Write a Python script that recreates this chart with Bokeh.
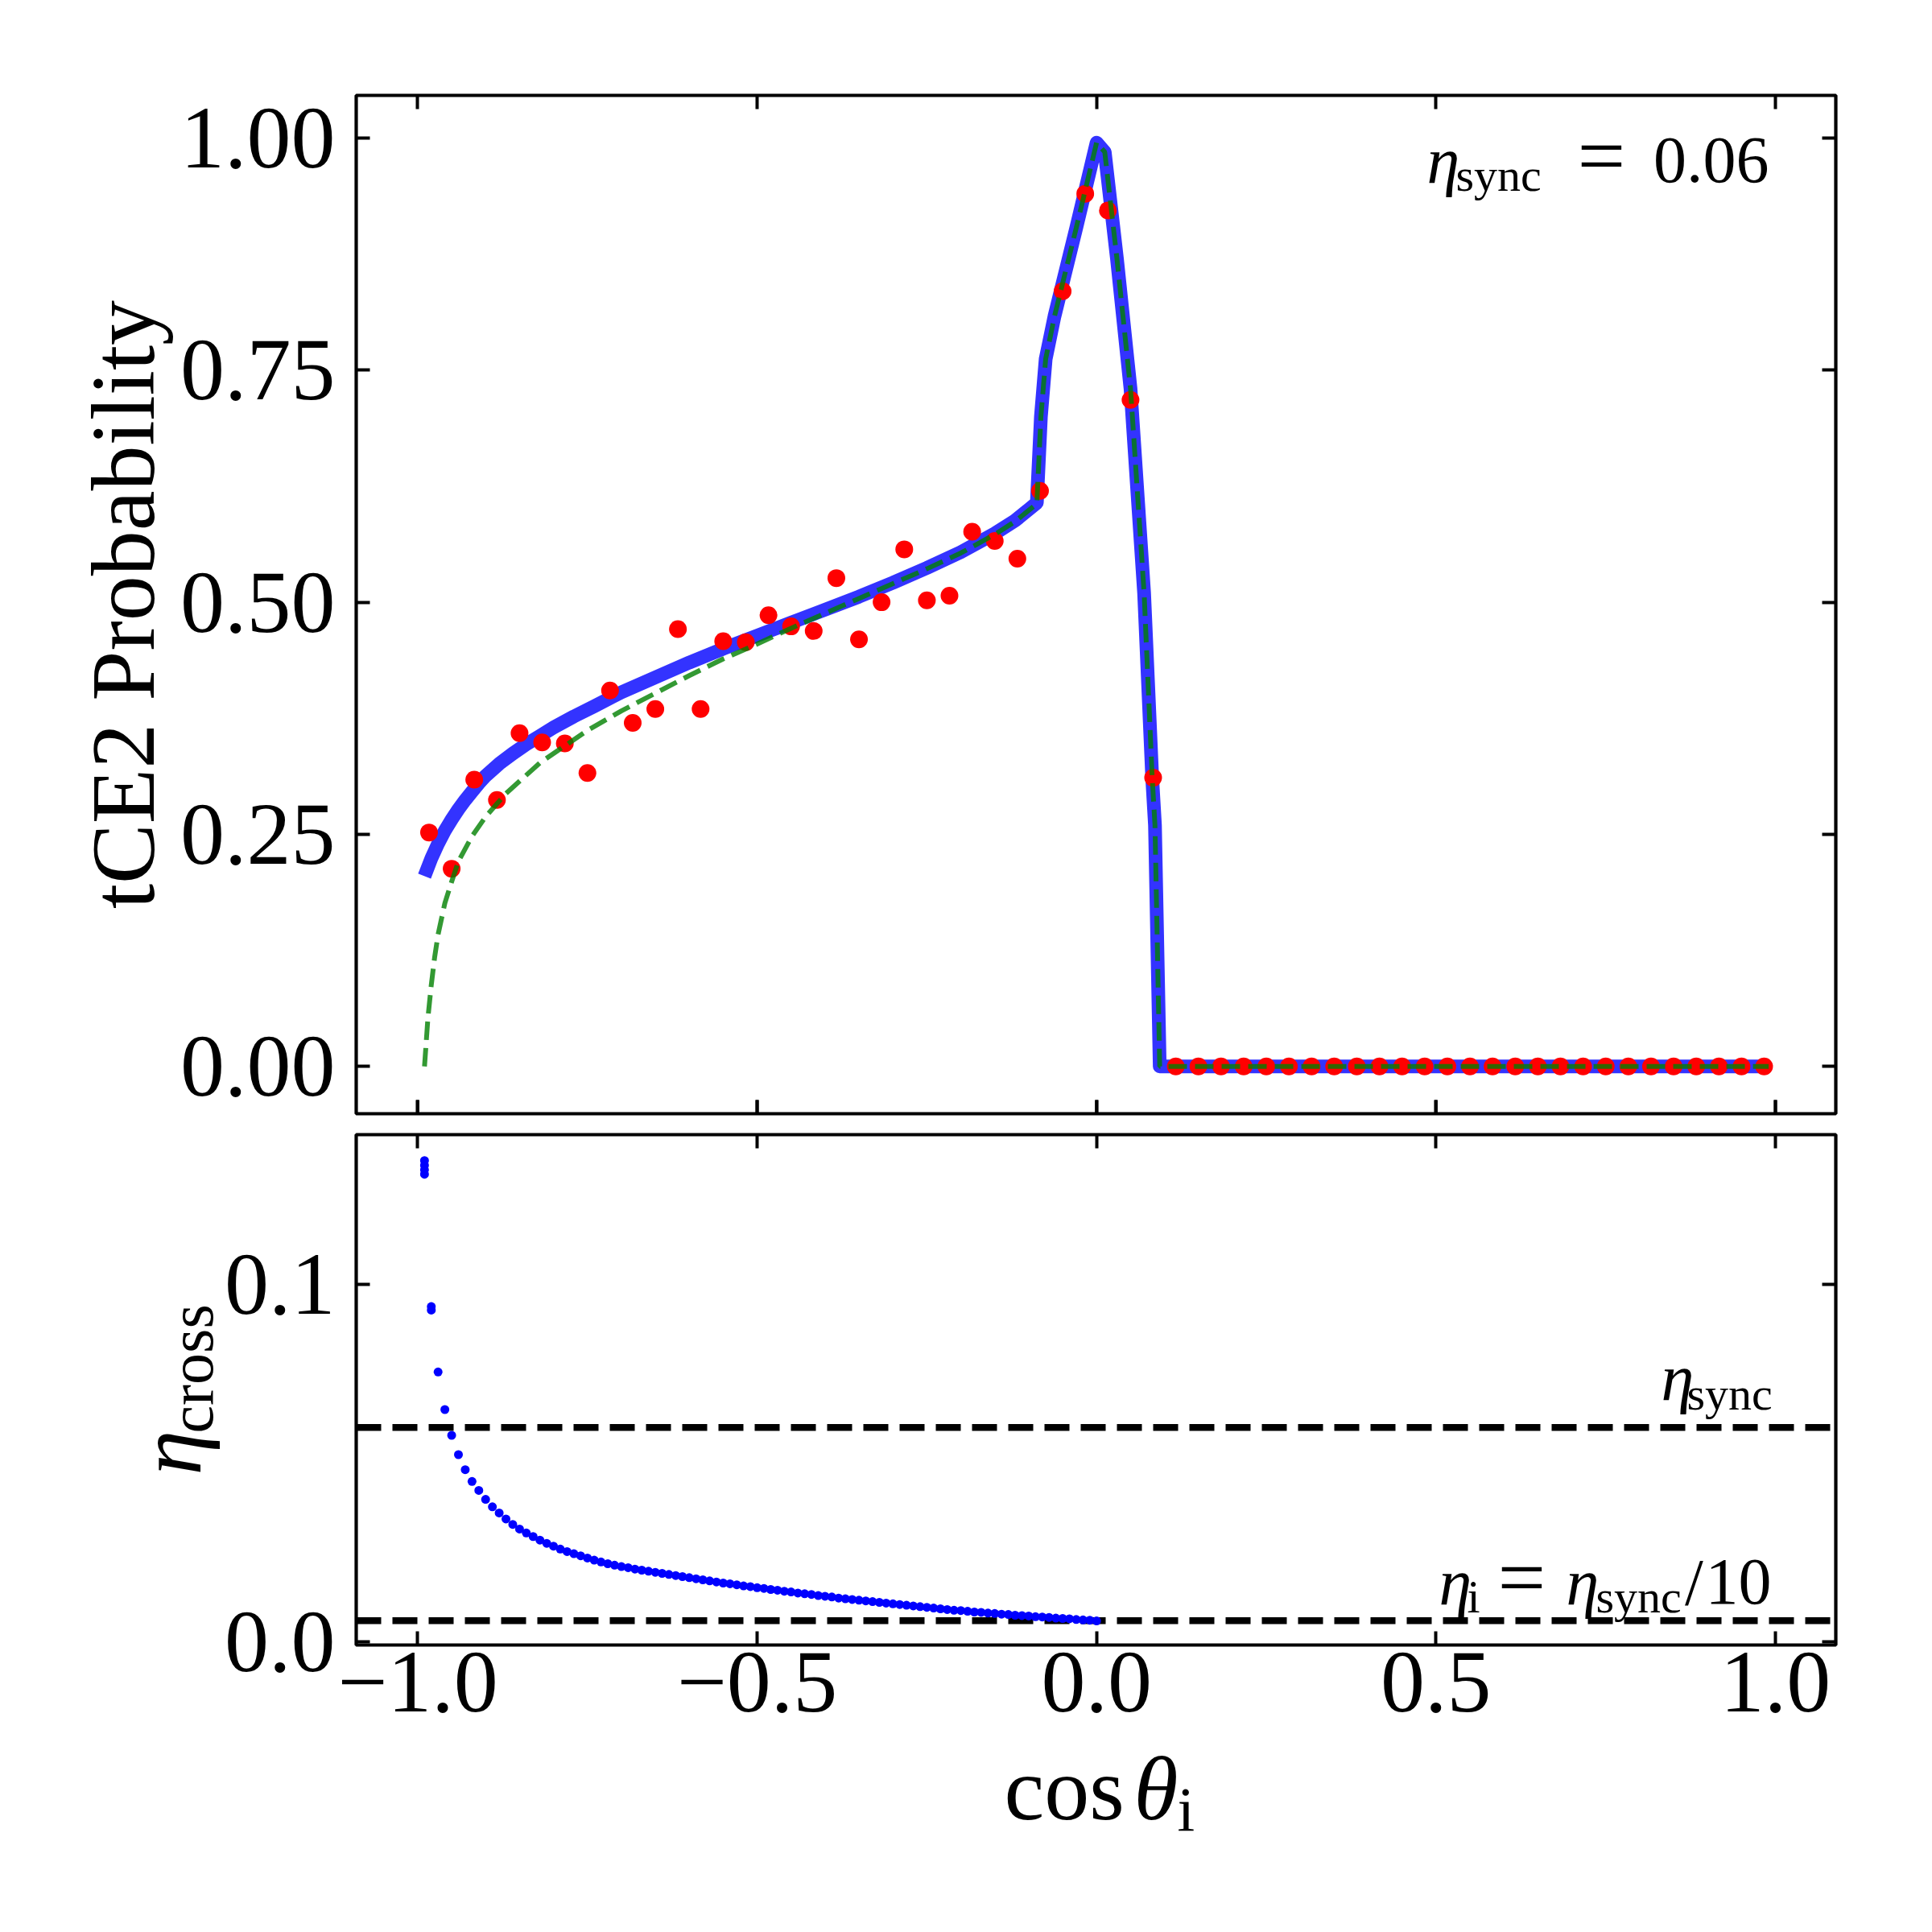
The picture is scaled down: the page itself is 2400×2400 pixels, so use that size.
import math
from bokeh.plotting import figure
from bokeh.models import Range1d, LinearAxis, FixedTicker, Label, Span, PrintfTickFormatter
from bokeh.layouts import column, row
from bokeh.embed import file_html
from bokeh.resources import INLINE

# ---------------- data ----------------
# top panel: binned simulation (red points)
bin_x = [-0.9833, -0.95, -0.9167, -0.8833, -0.85, -0.8167, -0.7833, -0.75, -0.7167, -0.6833,
         -0.65, -0.6167, -0.5833, -0.55, -0.5167, -0.4833, -0.45, -0.4167, -0.3833, -0.35,
         -0.3167, -0.2833, -0.25, -0.2167, -0.1833, -0.15, -0.1167, -0.0833, -0.05, -0.0167,
         0.0167, 0.05, 0.0833, 0.1167, 0.15, 0.1833, 0.2167, 0.25, 0.2833, 0.3167,
         0.35, 0.3833, 0.4167, 0.45, 0.4833, 0.5167, 0.55, 0.5833, 0.6167, 0.65,
         0.6833, 0.7167, 0.75, 0.7833, 0.8167, 0.85, 0.8833, 0.9167, 0.95, 0.9833]
bin_prob = [0.252, 0.213, 0.309, 0.287, 0.359, 0.349, 0.348, 0.316, 0.405, 0.370,
            0.385, 0.471, 0.385, 0.458, 0.457, 0.486, 0.474, 0.469, 0.526, 0.460,
            0.500, 0.557, 0.502, 0.507, 0.576, 0.566, 0.547, 0.620, 0.835, 0.940,
            0.922, 0.718, 0.311, 0.0, 0.0, 0.0, 0.0, 0.0, 0.0, 0.0,
            0.0, 0.0, 0.0, 0.0, 0.0, 0.0, 0.0, 0.0, 0.0, 0.0,
            0.0, 0.0, 0.0, 0.0, 0.0, 0.0, 0.0, 0.0, 0.0, 0.0]

# top panel: model curve (thick blue)
model_x = [-0.99, -0.98, -0.97, -0.96, -0.95, -0.94, -0.93, -0.92, -0.91, -0.90,
           -0.88, -0.86, -0.84, -0.82, -0.80, -0.77, -0.74, -0.70, -0.65, -0.60,
           -0.55, -0.50, -0.45, -0.40, -0.35, -0.30, -0.25, -0.20, -0.15, -0.12,
           -0.088, -0.082, -0.075, -0.062, -0.03, 0.0, 0.012, 0.03, 0.05, 0.07,
           0.082, 0.086, 0.093, 0.2, 0.4, 0.6, 0.8, 0.99]
model_prob = [0.205, 0.224, 0.240, 0.254, 0.266, 0.277, 0.287, 0.296, 0.305, 0.313,
              0.326, 0.337, 0.347, 0.356, 0.365, 0.377, 0.388, 0.403, 0.419, 0.435,
              0.450, 0.464, 0.478, 0.492, 0.506, 0.521, 0.537, 0.554, 0.574, 0.588,
              0.607, 0.700, 0.762, 0.808, 0.903, 0.995, 0.985, 0.870, 0.730, 0.510,
              0.310, 0.260, 0.0, 0.0, 0.0, 0.0, 0.0, 0.0]

# top panel: approximate curve (green dashed)
approx_x = [-0.99, -0.985, -0.98, -0.975, -0.97, -0.96, -0.95, -0.94, -0.92, -0.90,
            -0.87, -0.82, -0.75, -0.70, -0.65, -0.60, -0.55, -0.50, -0.45, -0.40,
            -0.35, -0.30, -0.25, -0.20, -0.15, -0.12, -0.088, -0.082, -0.075, -0.062,
            -0.03, 0.0, 0.012, 0.03, 0.05, 0.07, 0.082, 0.086, 0.093, 0.2, 0.4, 0.6, 0.8, 0.99]
approx_prob = [0.0, 0.052, 0.088, 0.118, 0.142, 0.176, 0.199, 0.221, 0.248, 0.269,
               0.294, 0.327, 0.362, 0.383, 0.402, 0.421, 0.439, 0.455, 0.472, 0.488,
               0.504, 0.520, 0.536, 0.553, 0.573, 0.587, 0.606, 0.700, 0.762, 0.808,
               0.903, 0.995, 0.985, 0.870, 0.730, 0.510, 0.310, 0.260, 0.0, 0.0, 0.0, 0.0, 0.0, 0.0]

# bottom panel: eta_cross points
cross_x = [-0.99, -0.99, -0.99, -0.99, -0.98, -0.98, -0.97, -0.96, -0.95, -0.94,
           -0.93, -0.92, -0.91, -0.90, -0.89, -0.88, -0.87, -0.86, -0.85, -0.84,
           -0.83, -0.82, -0.81, -0.80, -0.79, -0.78, -0.77, -0.76, -0.75, -0.74,
           -0.73, -0.72, -0.71, -0.70, -0.69, -0.68, -0.67, -0.66, -0.65, -0.64,
           -0.63, -0.62, -0.61, -0.60, -0.59, -0.58, -0.57, -0.56, -0.55, -0.54,
           -0.53, -0.52, -0.51, -0.50, -0.49, -0.48, -0.47, -0.46, -0.45, -0.44,
           -0.43, -0.42, -0.41, -0.40, -0.39, -0.38, -0.37, -0.36, -0.35, -0.34,
           -0.33, -0.32, -0.31, -0.30, -0.29, -0.28, -0.27, -0.26, -0.25, -0.24,
           -0.23, -0.22, -0.21, -0.20, -0.19, -0.18, -0.17, -0.16, -0.15, -0.14,
           -0.13, -0.12, -0.11, -0.10, -0.09, -0.08, -0.07, -0.06, -0.05, -0.04,
           -0.03, -0.02, -0.01, 0.00]
cross_eta = [0.1308, 0.1320, 0.1333, 0.1346, 0.0928, 0.0938, 0.0755, 0.0650, 0.0578, 0.0524,
             0.0482, 0.0449, 0.0424, 0.0399, 0.0378, 0.0361, 0.0344, 0.0329, 0.0316, 0.0305,
             0.0295, 0.0285, 0.0276, 0.0268, 0.0260, 0.0253, 0.0247, 0.0241, 0.0235, 0.0229,
             0.0224, 0.0219, 0.0215, 0.0211, 0.0208, 0.0204, 0.0201, 0.0198, 0.0195, 0.0192,
             0.0189, 0.0186, 0.0183, 0.0180, 0.0177, 0.0174, 0.0171, 0.0168, 0.0165, 0.0163,
             0.0160, 0.0157, 0.0155, 0.0152, 0.0150, 0.0147, 0.0145, 0.0142, 0.0140, 0.0137,
             0.0135, 0.0133, 0.0130, 0.0128, 0.0126, 0.0123, 0.0121, 0.0119, 0.0117, 0.0115,
             0.0113, 0.0111, 0.0109, 0.0107, 0.0105, 0.0103, 0.0101, 0.0099, 0.0097, 0.0095,
             0.0093, 0.0091, 0.0089, 0.0088, 0.0086, 0.0084, 0.0083, 0.0081, 0.0080, 0.0078,
             0.0077, 0.0075, 0.0074, 0.0073, 0.0071, 0.0070, 0.0069, 0.0067, 0.0066, 0.0065,
             0.0063, 0.0062, 0.0061, 0.0059]

eta_sync = 0.06
eta_i = eta_sync / 10

x_ticks = [-1.0, -0.5, 0.0, 0.5, 1.0]
x_tick_labels = ["\u22121.0", "\u22120.5", "0.0", "0.5", "1.0"]
top_y_ticks = [0.0, 0.25, 0.5, 0.75, 1.0]
bot_y_ticks = [0.0, 0.1]

# ---------------- layout constants (page pixels) ----------------
FONT = "Liberation Serif"
TICK_FS = 110
LABEL_FS = 112
SUBL_FS = 78
ANN_FS = 82
EQ_FS = 106
SUB_FS = 58
BASE_K = 0.33          # baseline correction (fraction of font size)
W = 2400
FRAME_L = 442
FRAME_W = 1838
BR = W - FRAME_L - FRAME_W
T1, FH1, BB1 = 118, 1265, 12
H1 = T1 + FH1 + BB1
T2, FH2, BB2 = 14, 634, 120
H2 = T2 + FH2 + BB2
HELP_L = 274
H3 = 232
X_RANGE = (-1.0906, 1.0889)
Y1_RANGE = (-0.0509, 1.0459)
Y2_RANGE = (-0.00083, 0.14186)
TICK_LEN = 17

FRAME_B1 = T1 + FH1
FRAME_B2 = H1 + T2 + FH2


def make_fig(width, height, yr, left, top, bottom):
    p = figure(width=width, height=height, x_range=Range1d(*X_RANGE), y_range=Range1d(*yr),
               output_backend="svg", toolbar_location=None, title=None,
               min_border_left=left, min_border_right=BR, min_border_top=top,
               min_border_bottom=bottom, x_axis_location=None, y_axis_location=None)
    p.frame_align = False
    p.grid.visible = False
    p.outline_line_color = "black"
    p.outline_line_width = 4.2
    p.background_fill_color = "white"
    p.border_fill_color = "white"
    return p


def helper(width, height):
    h = figure(width=width, height=height, x_range=Range1d(0, width), y_range=Range1d(0, height),
               output_backend="svg", toolbar_location=None, title=None, min_border=0,
               x_axis_location=None, y_axis_location=None)
    h.frame_align = False
    h.grid.visible = False
    h.outline_line_color = None
    h.background_fill_color = "white"
    h.border_fill_color = "white"
    return h


def add_axis(p, side, ticks, labelled, formatter=None, overrides=None, standoff=26):
    ax = LinearAxis(ticker=FixedTicker(ticks=ticks))
    ax.axis_line_color = None
    ax.major_tick_in = TICK_LEN
    ax.major_tick_out = 0
    ax.major_tick_line_width = 4
    ax.major_tick_line_color = "black"
    ax.minor_tick_line_color = None
    if labelled:
        ax.major_label_text_font = FONT
        ax.major_label_text_font_size = f"{TICK_FS}px"
        ax.major_label_text_color = "black"
        ax.major_label_standoff = standoff
        if formatter is not None:
            ax.formatter = formatter
        if overrides is not None:
            ax.major_label_overrides = overrides
    else:
        ax.major_label_text_font_size = "1px"
        ax.major_label_standoff = 0
        ax.major_label_text_alpha = 0
    p.add_layout(ax, side)
    return ax


def frame_lab(p, text, px, py, frame_bottom, size, italic=False, align="left"):
    """Label whose baseline is at page pixel (px, py)."""
    py = py - BASE_K * size
    p.add_layout(Label(x=px - FRAME_L, y=frame_bottom - py, x_units="screen", y_units="screen",
                       text=text, text_font=FONT, text_font_size=f"{size}px",
                       text_font_style="italic" if italic else "normal",
                       text_align=align, text_baseline="alphabetic", text_color="black"))


def help_lab(h, text, x, y, size, italic=False, rotated=False, align="left"):
    if rotated:
        x = x - BASE_K * size
    else:
        y = y + BASE_K * size
    h.add_layout(Label(x=x, y=y, x_units="screen", y_units="screen", text=text,
                       text_font=FONT, text_font_size=f"{size}px",
                       text_font_style="italic" if italic else "normal",
                       text_align=align, text_baseline="alphabetic",
                       angle=math.pi / 2 if rotated else 0.0, text_color="black"))


# ---------------- top panel ----------------
p1 = make_fig(W, H1, Y1_RANGE, FRAME_L, T1, BB1)
yax = add_axis(p1, "left", top_y_ticks, True, formatter=PrintfTickFormatter(format="%.2f"))
yax.axis_label = "tCE2 Probability"
yax.axis_label_text_font = FONT
yax.axis_label_text_font_size = f"{LABEL_FS}px"
yax.axis_label_text_font_style = "normal"
yax.axis_label_text_color = "black"
yax.axis_label_standoff = 6
add_axis(p1, "right", top_y_ticks, False)
add_axis(p1, "above", x_ticks, False)
add_axis(p1, "below", x_ticks, False)
# inward ticks along the bottom edge of the top panel (drawn at the x tick values)
tick_h = TICK_LEN * (Y1_RANGE[1] - Y1_RANGE[0]) / FH1
p1.segment(x0=x_ticks, y0=[Y1_RANGE[0]] * len(x_ticks), x1=x_ticks,
           y1=[Y1_RANGE[0] + tick_h] * len(x_ticks), line_color="black", line_width=4)

p1.line(model_x, model_prob, line_color="#3333ff", line_width=17, line_join="round", line_cap="butt")
p1.scatter(bin_x, bin_prob, size=22, fill_color="#ff0000", line_color=None)
p1.line(approx_x, approx_prob, line_color="#008000", line_alpha=0.8, line_width=6, line_dash="23 10")

frame_lab(p1, "\u03b7", 1772, 226, FRAME_B1, ANN_FS, italic=True)
frame_lab(p1, "sync", 1808, 236, FRAME_B1, SUB_FS)
frame_lab(p1, "=", 1989, 228, FRAME_B1, EQ_FS, align="center")
frame_lab(p1, "0.06", 2197, 226, FRAME_B1, ANN_FS, align="right")

# ---------------- bottom panel ----------------
p2 = make_fig(W - HELP_L, H2, Y2_RANGE, FRAME_L - HELP_L, T2, BB2)
add_axis(p2, "left", bot_y_ticks, True, formatter=PrintfTickFormatter(format="%.1f"))
add_axis(p2, "right", bot_y_ticks, False)
add_axis(p2, "above", x_ticks, False)
add_axis(p2, "below", x_ticks, True, overrides=dict(zip(x_ticks, x_tick_labels)), standoff=9)

for loc in (eta_sync, eta_i):
    p2.add_layout(Span(location=loc, dimension="width", line_color="black",
                       line_width=8.5, line_dash="31 14", level="underlay"))
p2.scatter(cross_x, cross_eta, size=11, fill_color="#0000ff", line_color=None)

frame_lab(p2, "\u03b7", 2063, 1738, FRAME_B2, ANN_FS, italic=True)
frame_lab(p2, "sync", 2095, 1750, FRAME_B2, SUB_FS)
frame_lab(p2, "\u03b7", 1787, 1992, FRAME_B2, ANN_FS, italic=True)
frame_lab(p2, "i", 1822, 2002, FRAME_B2, SUB_FS)
frame_lab(p2, "=", 1890, 1994, FRAME_B2, EQ_FS, align="center")
frame_lab(p2, "\u03b7", 1945, 1992, FRAME_B2, ANN_FS, italic=True)
frame_lab(p2, "sync", 1982, 2002, FRAME_B2, SUB_FS)
frame_lab(p2, "/", 2104, 1992, FRAME_B2, ANN_FS, align="center")
frame_lab(p2, "10", 2200, 1992, FRAME_B2, ANN_FS, align="right")

# left helper with the rotated y label of the bottom panel
hl = helper(HELP_L, H2)
top_hl = H1  # page y of the helper's top edge
help_lab(hl, "\u03b7", 247, H2 - (1832 - top_hl), LABEL_FS, italic=True, rotated=True)
help_lab(hl, "cross", 263, H2 - (1780 - top_hl), SUBL_FS, rotated=True)

# bottom helper with the x label
hb = helper(W, H3)
top_hb = H1 + H2
help_lab(hb, "cos", 1247, H3 - (2258 - top_hb), LABEL_FS)
help_lab(hb, "\u03b8", 1408, H3 - (2258 - top_hb), LABEL_FS, italic=True)
help_lab(hb, "i", 1462, H3 - (2273 - top_hb), SUBL_FS)

layout = column(p1, row(hl, p2, spacing=0), hb, spacing=0)
open("out.html", "w").write(file_html(layout, INLINE))
